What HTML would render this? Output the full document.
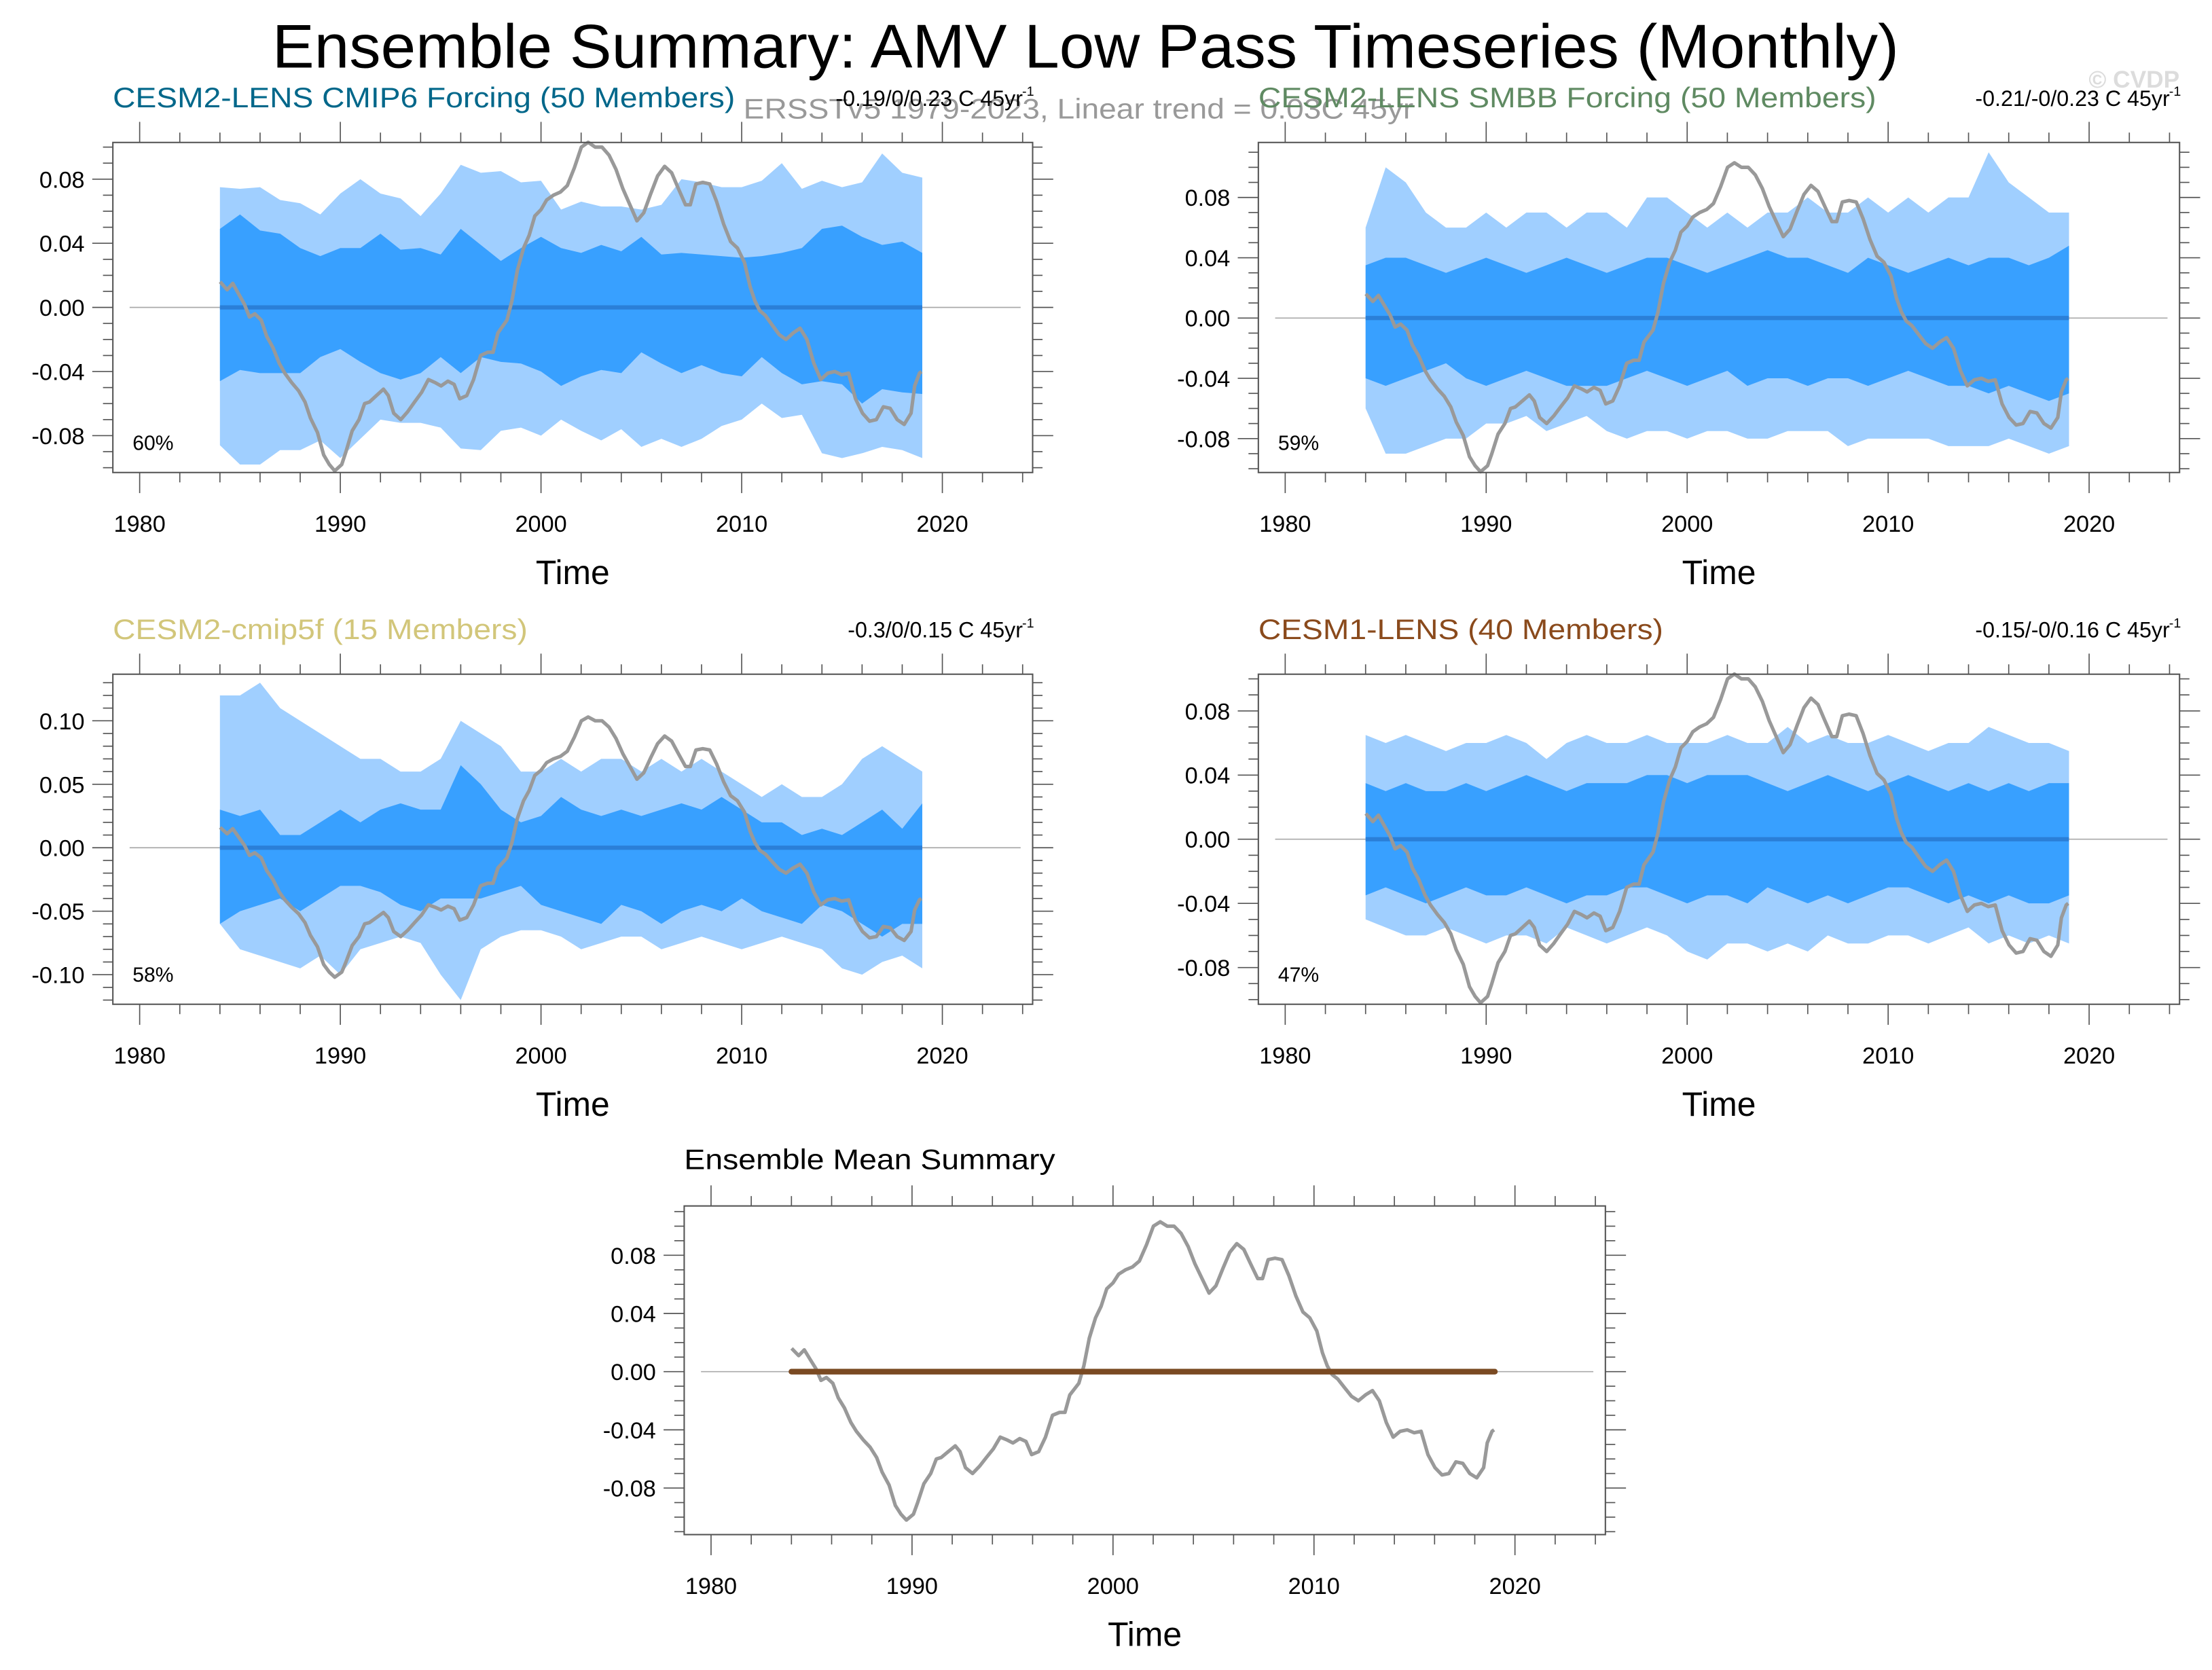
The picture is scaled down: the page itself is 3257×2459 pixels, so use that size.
<!DOCTYPE html>
<html><head><meta charset="utf-8">
<style>
html,body{margin:0;padding:0;background:#fff;}
svg{display:block;font-family:"Liberation Sans",Arial,sans-serif;}
</style></head>
<body>
<svg id="fig" xmlns="http://www.w3.org/2000/svg" width="3257" height="2459" viewBox="0 0 1568 1184" preserveAspectRatio="none">
<rect width="1568" height="1184" fill="#fff"/>
<text x="193" y="48" font-size="44" textLength="1153" lengthAdjust="spacingAndGlyphs">Ensemble Summary: AMV Low Pass Timeseries (Monthly)</text>
<text x="1545" y="62" font-size="17" font-weight="bold" fill="#dcdcdc" text-anchor="end">© CVDP</text>
<text x="527" y="84" font-size="20" fill="#999" textLength="475" lengthAdjust="spacingAndGlyphs">ERSSTv5 1979-2023, Linear trend = 0.03C 45yr</text>
<g id="panels"></g>
</svg>
<script>
// ---- data ----
const bandYears = [1984,1985,1986,1987,1988,1989,1990,1991,1992,1993,1994,1995,1996,1997,1998,1999,2000,2001,2002,2003,2004,2005,2006,2007,2008,2009,2010,2011,2012,2013,2014,2015,2016,2017,2018,2019];
const obsYears = [1984.01,1984.36,1984.64,1984.95,1985.22,1985.47,1985.74,1986.06,1986.33,1986.64,1986.96,1987.23,1987.58,1987.92,1988.24,1988.51,1988.86,1989.17,1989.45,1989.72,1990.07,1990.28,1990.59,1990.93,1991.21,1991.45,1991.80,1992.15,1992.39,1992.66,1993.01,1993.36,1993.70,1994.05,1994.39,1994.74,1995.02,1995.36,1995.67,1995.95,1996.30,1996.64,1996.99,1997.34,1997.61,1997.85,1998.30,1998.55,1998.82,1999.13,1999.41,1999.69,2000.00,2000.28,2000.62,2000.97,2001.31,2001.66,2002.01,2002.35,2002.70,2003.04,2003.39,2003.74,2004.08,2004.43,2004.78,2005.12,2005.47,2005.81,2006.16,2006.51,2006.85,2007.20,2007.44,2007.72,2008.06,2008.41,2008.75,2009.10,2009.45,2009.79,2010.14,2010.42,2010.66,2010.90,2011.18,2011.52,2011.87,2012.21,2012.56,2012.91,2013.25,2013.60,2013.94,2014.29,2014.64,2014.98,2015.33,2015.67,2016.02,2016.37,2016.71,2017.06,2017.40,2017.75,2018.10,2018.44,2018.62,2018.86,2018.96];
const obsValues = [0.016,0.011,0.015,0.008,0.002,-0.006,-0.004,-0.008,-0.018,-0.025,-0.035,-0.041,-0.047,-0.052,-0.059,-0.069,-0.078,-0.092,-0.098,-0.102,-0.098,-0.090,-0.077,-0.070,-0.060,-0.059,-0.055,-0.051,-0.055,-0.066,-0.070,-0.065,-0.059,-0.053,-0.045,-0.047,-0.049,-0.046,-0.048,-0.057,-0.055,-0.045,-0.030,-0.028,-0.028,-0.016,-0.008,0.004,0.023,0.037,0.045,0.057,0.061,0.067,0.070,0.072,0.076,0.087,0.100,0.103,0.100,0.100,0.095,0.086,0.074,0.064,0.054,0.059,0.071,0.082,0.088,0.084,0.074,0.064,0.064,0.077,0.078,0.077,0.066,0.052,0.041,0.037,0.028,0.013,0.004,-0.002,-0.005,-0.011,-0.017,-0.020,-0.016,-0.013,-0.020,-0.035,-0.045,-0.041,-0.040,-0.042,-0.041,-0.057,-0.066,-0.071,-0.070,-0.062,-0.063,-0.070,-0.073,-0.066,-0.049,-0.041,-0.040];

const p1OuterUp = [0.075,0.074,0.075,0.067,0.065,0.058,0.071,0.080,0.071,0.068,0.057,0.071,0.089,0.084,0.085,0.078,0.079,0.061,0.066,0.063,0.063,0.061,0.064,0.080,0.078,0.075,0.075,0.079,0.090,0.074,0.079,0.075,0.078,0.096,0.084,0.081];
const p1InnerUp = [0.049,0.058,0.048,0.046,0.037,0.032,0.037,0.037,0.046,0.036,0.037,0.033,0.049,0.039,0.029,0.037,0.044,0.037,0.034,0.039,0.035,0.044,0.033,0.034,0.033,0.032,0.031,0.032,0.034,0.037,0.049,0.051,0.044,0.039,0.041,0.034];
const p1InnerLo = [-0.046,-0.039,-0.041,-0.041,-0.041,-0.031,-0.026,-0.034,-0.041,-0.045,-0.041,-0.031,-0.041,-0.031,-0.034,-0.035,-0.040,-0.049,-0.043,-0.039,-0.041,-0.028,-0.035,-0.041,-0.036,-0.041,-0.043,-0.031,-0.041,-0.048,-0.046,-0.048,-0.060,-0.051,-0.053,-0.054];
const p1OuterLo = [-0.086,-0.098,-0.098,-0.089,-0.089,-0.083,-0.094,-0.082,-0.070,-0.072,-0.072,-0.075,-0.088,-0.089,-0.077,-0.075,-0.080,-0.070,-0.077,-0.083,-0.076,-0.087,-0.082,-0.087,-0.082,-0.074,-0.070,-0.060,-0.069,-0.067,-0.091,-0.094,-0.091,-0.087,-0.089,-0.094];

const p2OuterUp = [0.06,0.10,0.09,0.07,0.06,0.06,0.07,0.06,0.07,0.07,0.06,0.07,0.07,0.06,0.08,0.08,0.07,0.06,0.07,0.06,0.07,0.07,0.08,0.07,0.07,0.08,0.07,0.08,0.07,0.08,0.08,0.11,0.09,0.08,0.07,0.07];
const p2InnerUp = [0.035,0.04,0.04,0.035,0.03,0.035,0.04,0.035,0.03,0.035,0.04,0.035,0.03,0.035,0.04,0.04,0.035,0.03,0.035,0.04,0.045,0.04,0.04,0.035,0.03,0.04,0.035,0.03,0.035,0.04,0.035,0.04,0.04,0.035,0.04,0.048];
const p2InnerLo = [-0.04,-0.045,-0.04,-0.035,-0.03,-0.04,-0.045,-0.04,-0.035,-0.04,-0.045,-0.045,-0.045,-0.04,-0.035,-0.04,-0.045,-0.04,-0.035,-0.045,-0.04,-0.04,-0.045,-0.04,-0.04,-0.045,-0.04,-0.035,-0.04,-0.045,-0.045,-0.05,-0.045,-0.05,-0.055,-0.05];
const p2OuterLo = [-0.06,-0.09,-0.09,-0.085,-0.08,-0.08,-0.07,-0.07,-0.065,-0.075,-0.07,-0.065,-0.075,-0.08,-0.075,-0.075,-0.08,-0.075,-0.075,-0.08,-0.08,-0.075,-0.075,-0.075,-0.085,-0.08,-0.08,-0.08,-0.08,-0.085,-0.085,-0.085,-0.08,-0.085,-0.09,-0.085];

const p3OuterUp = [0.12,0.12,0.13,0.11,0.10,0.09,0.08,0.07,0.07,0.06,0.06,0.07,0.10,0.09,0.08,0.06,0.06,0.07,0.06,0.07,0.07,0.06,0.07,0.06,0.07,0.06,0.05,0.04,0.05,0.04,0.04,0.05,0.07,0.08,0.07,0.06];
const p3InnerUp = [0.03,0.025,0.03,0.01,0.01,0.02,0.03,0.02,0.03,0.035,0.03,0.03,0.065,0.05,0.03,0.02,0.025,0.04,0.03,0.025,0.03,0.025,0.03,0.035,0.03,0.04,0.03,0.02,0.02,0.01,0.015,0.01,0.02,0.03,0.015,0.035];
const p3InnerLo = [-0.06,-0.05,-0.045,-0.04,-0.05,-0.04,-0.03,-0.03,-0.035,-0.045,-0.05,-0.04,-0.04,-0.04,-0.035,-0.03,-0.045,-0.05,-0.055,-0.06,-0.045,-0.05,-0.06,-0.05,-0.045,-0.05,-0.04,-0.05,-0.055,-0.06,-0.045,-0.05,-0.06,-0.07,-0.06,-0.06];
const p3OuterLo = [-0.06,-0.08,-0.085,-0.09,-0.095,-0.085,-0.1,-0.08,-0.075,-0.07,-0.075,-0.1,-0.12,-0.08,-0.07,-0.065,-0.065,-0.07,-0.08,-0.075,-0.07,-0.07,-0.08,-0.075,-0.07,-0.075,-0.08,-0.075,-0.07,-0.075,-0.08,-0.095,-0.1,-0.09,-0.085,-0.095];

const p4OuterUp = [0.065,0.06,0.065,0.06,0.055,0.06,0.06,0.065,0.06,0.05,0.06,0.065,0.06,0.06,0.065,0.06,0.06,0.06,0.065,0.06,0.06,0.07,0.06,0.065,0.06,0.06,0.065,0.06,0.055,0.06,0.06,0.07,0.065,0.06,0.06,0.055];
const p4InnerUp = [0.035,0.03,0.035,0.03,0.03,0.035,0.03,0.035,0.04,0.035,0.03,0.035,0.035,0.035,0.04,0.04,0.035,0.04,0.04,0.04,0.035,0.03,0.035,0.04,0.035,0.03,0.035,0.04,0.035,0.03,0.035,0.03,0.035,0.03,0.035,0.035];
const p4InnerLo = [-0.035,-0.03,-0.035,-0.04,-0.035,-0.03,-0.035,-0.035,-0.03,-0.035,-0.04,-0.035,-0.035,-0.03,-0.03,-0.035,-0.04,-0.035,-0.035,-0.04,-0.03,-0.035,-0.04,-0.035,-0.04,-0.035,-0.03,-0.03,-0.035,-0.04,-0.035,-0.04,-0.035,-0.04,-0.04,-0.035];
const p4OuterLo = [-0.05,-0.055,-0.06,-0.06,-0.055,-0.06,-0.065,-0.06,-0.06,-0.065,-0.055,-0.06,-0.065,-0.06,-0.055,-0.06,-0.07,-0.075,-0.065,-0.065,-0.07,-0.065,-0.07,-0.06,-0.065,-0.065,-0.06,-0.06,-0.065,-0.06,-0.055,-0.065,-0.06,-0.065,-0.06,-0.065];

const meanValues = [0,0];
const meanYears = [1984,2019];
const yearTicks = [1980,1990,2000,2010,2020];
const ticks1 = [0.08,0.04,0.00,-0.04,-0.08];
const ticks3 = [0.10,0.05,0.00,-0.05,-0.10];
const tickLabels1 = ["0.08","0.04","0.00","-0.04","-0.08"];
const tickLabels3 = ["0.10","0.05","0.00","-0.05","-0.10"];

// ---- rendering ----
const NS="http://www.w3.org/2000/svg";
const root=document.getElementById('panels');
function mk(tag,attrs,parent){const e=document.createElementNS(NS,tag);for(const k in attrs)e.setAttribute(k,attrs[k]);(parent||root).appendChild(e);return e;}

const panels=[
 {name:'cesm2-cmip6',x0:80,x1:732,y0:101,y1:335,vTop:0.1029,vBot:-0.103,title:'CESM2-LENS CMIP6 Forcing (50 Members)',tw:441,color:'#00678a',stat:'-0.19/0/0.23 C 45yr',pct:'60%',ticks:ticks1,labels:tickLabels1,minor:0.01,ou:p1OuterUp,iu:p1InnerUp,il:p1InnerLo,ol:p1OuterLo},
 {name:'cesm2-smbb',x0:892,x1:1545,y0:101,y1:335,vTop:0.1165,vBot:-0.1025,title:'CESM2-LENS SMBB Forcing (50 Members)',tw:438,color:'#5f8a62',stat:'-0.21/-0/0.23 C 45yr',pct:'59%',ticks:ticks1,labels:tickLabels1,minor:0.01,ou:p2OuterUp,iu:p2InnerUp,il:p2InnerLo,ol:p2OuterLo},
 {name:'cesm2-cmip5f',x0:80,x1:732,y0:478,y1:712,vTop:0.1367,vBot:-0.1233,title:'CESM2-cmip5f (15 Members)',tw:294,color:'#d2c67a',stat:'-0.3/0/0.15 C 45yr',pct:'58%',ticks:ticks3,labels:tickLabels3,minor:0.01,ou:p3OuterUp,iu:p3InnerUp,il:p3InnerLo,ol:p3OuterLo},
 {name:'cesm1-lens',x0:892,x1:1545,y0:478,y1:712,vTop:0.1029,vBot:-0.1029,title:'CESM1-LENS (40 Members)',tw:287,color:'#8a4a1c',stat:'-0.15/-0/0.16 C 45yr',pct:'47%',ticks:ticks1,labels:tickLabels1,minor:0.01,ou:p4OuterUp,iu:p4InnerUp,il:p4InnerLo,ol:p4OuterLo},
 {name:'ensemble-mean',x0:485,x1:1138,y0:855,y1:1088,vTop:0.1139,vBot:-0.112,title:'Ensemble Mean Summary',tw:263,color:'#000',stat:null,ticks:ticks1,labels:tickLabels1,minor:0.01,mean:true}
];

panels.forEach(p=>{
  const g=mk('g',{});
  
  
  const w=p.x1-p.x0;
  const xa=p.x0+w*19/652, xb=p.x0+w*588/652;
  const X=y=>xa+(y-1980)*(xb-xa)/40;
  const Y=v=>p.y0+(p.vTop-v)*(p.y1-p.y0)/(p.vTop-p.vBot);
  function band(up,lo,fill,nm){
    let d='M'+bandYears.map((yr,i)=>X(yr).toFixed(2)+','+Y(up[i]).toFixed(2)).join('L');
    d+='L'+bandYears.map((yr,i)=>X(yr).toFixed(2)+','+Y(lo[i]).toFixed(2)).reverse().join('L')+'Z';
    const e=mk('path',{d:d,fill:fill},g);
    
    
  }
  const z=mk('line',{x1:X(1979.5),x2:X(2023.9),y1:Y(0),y2:Y(0),stroke:'#aaa','stroke-width':0.8},g);
  
  
  if(!p.mean){
    band(p.ou,p.ol,'#a0cfff','outer-spread-band');
    band(p.iu,p.il,'#38a0ff','inner-spread-band');
    const ml=mk('path',{d:'M'+meanYears.map((yr,i)=>X(yr)+','+Y(meanValues[i])).join('L'),stroke:'#2a7fd8','stroke-width':3,fill:'none'},g);
    
    
  }
  const ob=mk('path',{d:'M'+obsYears.map((yr,i)=>X(yr).toFixed(2)+','+Y(obsValues[i]).toFixed(2)).join('L'),stroke:'#999','stroke-width':2.5,fill:'none','stroke-linejoin':'round'},g);
  
  
  if(p.mean){
    const ml=mk('path',{d:'M'+meanYears.map((yr,i)=>X(yr)+','+Y(meanValues[i])).join('L'),stroke:'#7a4a22','stroke-width':4,fill:'none','stroke-linecap':'round'},g);
    
    
  }
  const fr=mk('rect',{x:p.x0,y:p.y0,width:w,height:p.y1-p.y0,fill:'none',stroke:'#555','stroke-width':1},g);
  
  
  for(let yr=1980;yr<=2024;yr+=2){
    const maj=yr%10===0, L=maj?14.6:7, x=X(yr);
    mk('line',{x1:x,x2:x,y1:p.y0,y2:p.y0-L,stroke:'#555','stroke-width':0.8},g);
    mk('line',{x1:x,x2:x,y1:p.y1,y2:p.y1+L,stroke:'#555','stroke-width':0.8},g);
  }
  yearTicks.forEach(yr=>{
    const t=mk('text',{x:X(yr),y:p.y1+42,'font-size':16.5,'text-anchor':'middle'},g);
    t.textContent=yr;
    
    
  });
  for(let v=Math.ceil(p.vBot/p.minor)*p.minor; v<=p.vTop+1e-9; v+=p.minor){
    const isMaj=p.ticks.some(t=>Math.abs(t-v)<1e-6);
    const L=isMaj?14.6:7, y=Y(v);
    mk('line',{x1:p.x0,x2:p.x0-L,y1:y,y2:y,stroke:'#555','stroke-width':0.8},g);
    mk('line',{x1:p.x1,x2:p.x1+L,y1:y,y2:y,stroke:'#555','stroke-width':0.8},g);
  }
  p.ticks.forEach((v,i)=>{
    const t=mk('text',{x:p.x0-20,y:Y(v)+6,'font-size':16.5,'text-anchor':'end'},g);
    t.textContent=p.labels[i];
    
    
  });
  const xt=mk('text',{x:(p.x0+p.x1)/2,y:p.y1+79,'font-size':24,'text-anchor':'middle'},g);
  xt.textContent='Time';
  
  
  const ti=mk('text',{x:p.x0,y:p.mean?p.y0-26:p.y0-25,'font-size':20,fill:p.color,textLength:p.tw,lengthAdjust:'spacingAndGlyphs'},g);
  ti.textContent=p.title;
  
  
  if(p.stat){
    const st=mk('text',{x:p.x1-7,y:p.y0-26,'font-size':15.5,'text-anchor':'end'},g);
    st.textContent=p.stat;
    
    
    const sup=mk('text',{x:p.x1+1,y:p.y0-33,'font-size':9.5,'text-anchor':'end'},g);
    sup.textContent='-1';
    const pc=mk('text',{x:p.x0+14,y:p.y1-16,'font-size':14.5},g);
    pc.textContent=p.pct;
    
    
  }
});
</script>
</body></html>
